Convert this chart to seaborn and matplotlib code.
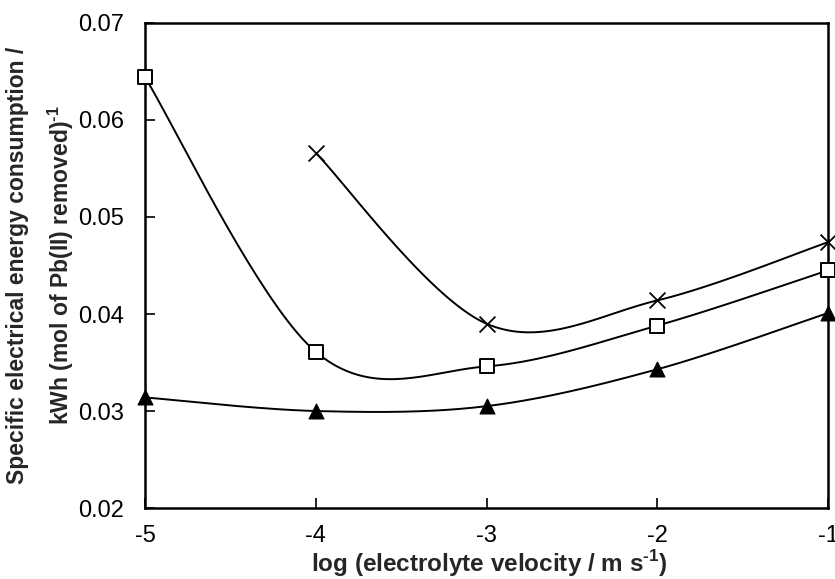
import numpy as np
import pandas as pd
import matplotlib
matplotlib.use("Agg")
import matplotlib.pyplot as plt
import seaborn as sns

# ---- data ----
x_square = [-5, -4, -3, -2, -1]
y_square = [0.0644, 0.0361, 0.0346, 0.0388, 0.0445]

x_cross = [-4, -3, -2, -1]
y_cross = [0.0566, 0.0390, 0.0414, 0.0474]

x_triangle = [-5, -4, -3, -2, -1]
y_triangle = [0.0314, 0.0300, 0.0305, 0.0343, 0.0401]

x_ticks = [-5, -4, -3, -2, -1]
y_ticks = [0.02, 0.03, 0.04, 0.05, 0.06, 0.07]


def smooth(xs, ys, n=40):
    """Excel-style smoothed line: cubic Bezier with Catmull-Rom control points."""
    p = np.column_stack([xs, ys]).astype(float)
    out = []
    m = len(p)
    for i in range(m - 1):
        p0 = p[i]
        p3 = p[i + 1]
        prev = p[i - 1] if i > 0 else p[i]
        nxt = p[i + 2] if i + 2 < m else p[i + 1]
        c1 = p0 + (p3 - prev) / 6.0
        c2 = p3 - (nxt - p0) / 6.0
        t = np.linspace(0, 1, n)[:, None]
        seg = ((1 - t) ** 3) * p0 + 3 * t * (1 - t) ** 2 * c1 + 3 * t ** 2 * (1 - t) * c2 + t ** 3 * p3
        if i > 0:
            seg = seg[1:]
        out.append(seg)
    s = np.vstack(out)
    return s[:, 0], s[:, 1]


sns.set_theme(style="white")
plt.rcParams["font.family"] = ["Liberation Sans", "DejaVu Sans"]
plt.rcParams["mathtext.fontset"] = "custom"
plt.rcParams["mathtext.rm"] = "Liberation Sans"
plt.rcParams["mathtext.bf"] = "Liberation Sans:bold"

fig = plt.figure(figsize=(8.35, 5.79), dpi=100)
ax = fig.add_axes([0.1737, 0.1226, 0.9916 - 0.1737, 0.9603 - 0.1226])

for xs, ys in [(x_square, y_square), (x_cross, y_cross), (x_triangle, y_triangle)]:
    cx, cy = smooth(xs, ys)
    sns.lineplot(x=cx, y=cy, sort=False, estimator=None, color="black", linewidth=1.4, ax=ax)

sns.scatterplot(x=x_triangle, y=y_triangle, marker="^", s=115, color="black",
                edgecolor="black", linewidth=0.8, ax=ax, zorder=5, clip_on=False)
sns.scatterplot(x=x_square, y=y_square, marker="s", s=90, color="white",
                edgecolor="black", linewidth=1.4, ax=ax, zorder=5, clip_on=False)
sns.scatterplot(x=x_cross, y=y_cross, marker="x", s=130, color="black",
                linewidth=1.3, ax=ax, zorder=5, clip_on=False)

ax.set_xlim(-5, -1)
ax.set_ylim(0.02, 0.07)
ax.set_xticks(x_ticks)
ax.set_xticklabels([str(v) for v in x_ticks])
ax.set_yticks(y_ticks)
ax.set_yticklabels([f"{v:.2f}" for v in y_ticks])
ax.tick_params(axis="both", direction="in", length=7, width=1.2, labelsize=17, colors="black",
               bottom=True, left=True)
ax.tick_params(axis="y", pad=15)
ax.tick_params(axis="x", pad=12)
for sp in ax.spines.values():
    sp.set_color("black")
    sp.set_linewidth(1.8)

ax.set_xlabel("log (electrolyte velocity / m s$^{\\mathbf{\u20101}}$)", fontsize=17.5, fontweight="bold")
ax.set_ylabel("Specific electrical energy consumption /\nkWh (mol of Pb(II) removed)$^{\\mathbf{\u20101}}$",
              fontsize=16.5, fontweight="bold", linespacing=1.75)
ax.xaxis.set_label_coords(0.504, -0.082)
ax.yaxis.set_label_coords(-0.152, 0.5)
ax.yaxis.label.set_verticalalignment("center")

fig.savefig("out.png", dpi=100)
